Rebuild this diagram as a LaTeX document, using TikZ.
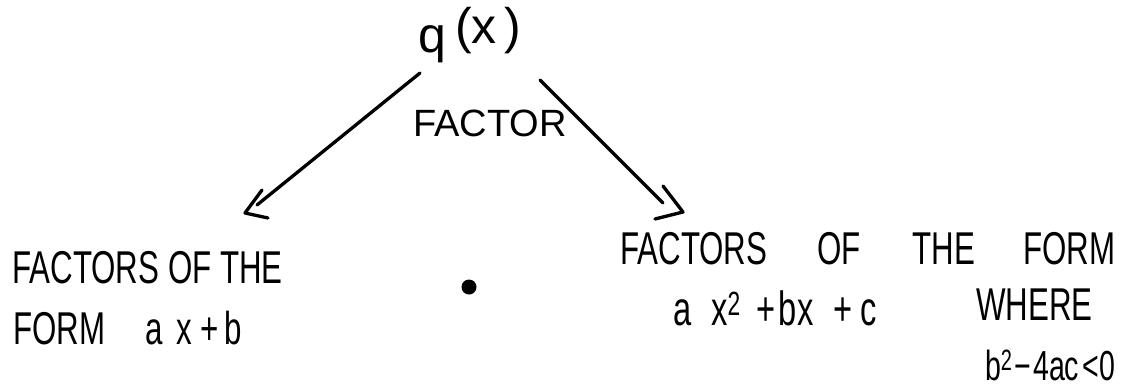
\documentclass[tikz,border=0pt]{standalone}
\usepackage{fontspec}
\newfontfamily\handn{Liberation Sans}
\newfontfamily\hand[FakeStretch=0.68]{Liberation Sans}
\begin{document}
\begin{tikzpicture}[x=1pt,y=-1pt,
  txt/.style={inner sep=0pt,anchor=base west,font=\hand\fontsize{46}{46}\selectfont},
  stroke/.style={line width=3.3pt,line cap=round,line join=round}]
\useasboundingbox (0,0) rectangle (1134,389);
% top
\node[txt,font=\handn\fontsize{50}{50}\selectfont] (q) at (418,52) {q\hspace{9pt}\raisebox{9pt}{(x\hspace{8pt})}};
\node[txt,font=\handn\fontsize{38}{38}\selectfont] (fac) at (413,136) {FACTOR};
% connectors
\coordinate (l0) at (420,73);
\coordinate (l1) at (257,205);
\coordinate (la) at (262,190);
\coordinate (lt) at (245,213);
\coordinate (lb) at (268,218);
\coordinate (r0) at (540,80);
\coordinate (r1) at (663,203);
\coordinate (ra) at (663,186);
\coordinate (rt) at (683,212);
\coordinate (rb) at (655,219);
\draw[stroke] (l0) -- (l1);
\draw[stroke] (la) -- (lt) -- (lb);
\draw[stroke] (r0) -- (r1);
\draw[stroke] (ra) -- (rt) -- (rb);
% left text
\node[txt] (left1) at (12,283) {FACTORS OF THE};
\node[txt] (left2) at (13,344) {FORM\hspace{40pt}a\hspace{14pt}x\hspace{8pt}+\hspace{6pt}b};
% dot
\fill (469,287) circle (7.5);
% right text
\node[txt] (right1) at (620,264) {FACTORS\hspace{50pt}OF\hspace{52pt}THE\hspace{48pt}FORM};
\node[txt,font=\hand\fontsize{48}{48}\selectfont] (right2) at (673,325) {a\hspace{20pt}x\textsuperscript{2}\hspace{16pt}+\hspace{3pt}bx\hspace{20pt}+\hspace{8pt}c};
\node[txt] (where) at (976,320) {WHERE};
\node[txt,anchor=base east,font=\hand\fontsize{42}{42}\selectfont] (right3) at (1116,380) {b\textsuperscript{2}\hspace{2pt}−\hspace{2pt}4ac\hspace{3pt}<\hspace{1pt}0};
\end{tikzpicture}
\end{document}
